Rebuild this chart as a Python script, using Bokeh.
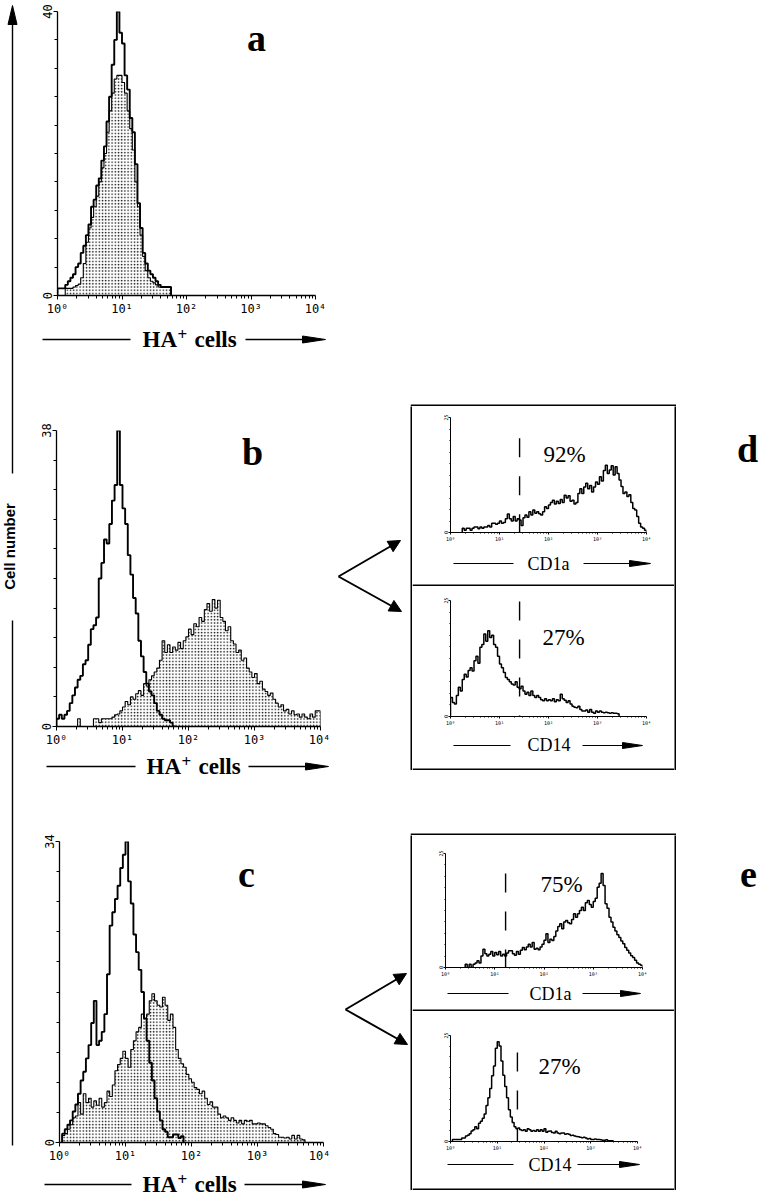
import numpy as np
from bokeh.plotting import figure
from bokeh.layouts import row, column
from bokeh.models import (Range1d, FixedTicker, Label, Arrow, NormalHead, Spacer)
from bokeh.embed import file_html
from bokeh.resources import INLINE

# ---------------- data (channel bins of 0.04 decade, log scale 10^0..10^4) ----
BIN_DEC = 0.04

A_OPEN_START = 0
A_OPEN = [1, 1, 1, 1.5, 2, 2.5, 3, 4, 4.5, 6, 7, 8.5, 10, 12.5, 13.5, 15.5, 16.5,
          19, 21, 24.5, 28, 32.5, 36, 40, 37, 35.5, 31, 29, 25, 23, 18.5, 13, 9.5,
          6, 4.5, 3.5, 3, 2.5, 2, 1.5, 1.2, 1.2, 1.2, 1.2]
A_FILL_START = 3
A_FILL = [1, 1, 1, 1.2, 1.4, 1.6, 2.5, 4.5, 7.5, 9.5, 11, 12.5, 14, 16, 18, 20, 23,
          26, 28.5, 30.5, 31, 31, 30, 28.5, 26, 23.5, 20.5, 16, 12.5, 8.5, 5.5, 3.5,
          2.5, 2, 1.8, 1.5, 1.2, 1.2, 1.2, 1.2, 1.2]

B_OPEN_START = 0
B_OPEN = [1, 1.5, 1, 1.5, 2, 3, 4, 5, 6, 6.5, 8, 8.5, 10.5, 12.5, 13, 14, 19, 21,
          24, 23.5, 26, 29, 31, 38, 31, 28, 26, 22, 19.5, 16.5, 14.5, 11, 9, 7,
          5.5, 4.5, 4, 3, 2, 1.5, 1, 0.8, 0.8, 0.5, 0]
B_FILL_START = 8
B_FILL = [1, 0, 0, 0, 0, 0, 1, 1, 0.5, 1, 1, 1, 1, 1.2, 1.5, 1.6, 2, 2.5, 3.2,
          2.8, 3.8, 3.5, 4.2, 4.6, 4, 5.5, 5.2, 6, 6.5, 7, 7.5, 8.5, 11, 9.5, 10.5,
          9.5, 10.2, 9.8, 10.8, 10, 11, 11.5, 12.5, 11.8, 13.2, 12.8, 14, 13.5, 15,
          15.8, 14.8, 16.3, 15.2, 16.2, 14, 13.5, 12.3, 12.8, 11, 10.6, 9.5, 9.8,
          8.5, 8.8, 7.5, 7, 6.3, 6.8, 5.5, 5.8, 4.8, 4.5, 4, 4.3, 3.5, 3, 2.5, 2.8,
          2, 2.2, 1.6, 2, 1.5, 1.6, 1.2, 1.6, 1.2, 1, 1.6, 1.2, 2, 2]

C_OPEN_START = 1
C_OPEN = [1, 1.5, 2, 2.5, 3.5, 4.3, 5.5, 7, 8, 9.5, 11, 13.5, 16, 11, 11.5, 12.5,
          14.5, 19, 24.5, 26, 27.5, 29, 31, 32.5, 34, 29.5, 27, 23.5, 21.5, 19.5,
          17, 14, 11.5, 9, 7, 5, 3.5, 2.5, 1.5, 1.2, 0.6, 0.6, 0.9, 0.9, 0.5, 0.7]
C_FILL_START = 1
C_FILL = [0.8, 1, 1.5, 2, 2.8, 3, 4.5, 3.2, 5.5, 4.5, 5, 4, 4.7, 4.2, 5, 4, 4.5,
          5.8, 5.2, 6.5, 8.1, 8.8, 9.5, 10.3, 9.5, 8.5, 10.5, 11.5, 12.5, 13, 14.5,
          14, 14.5, 16, 16.8, 16, 15.5, 15.3, 16.4, 15.5, 13.8, 14.5, 13, 10.5, 9.5,
          8.9, 8.5, 7.7, 7.2, 6.8, 6.2, 6, 5.5, 5.8, 5, 4.3, 4.6, 4, 4, 3.2, 2.8, 3,
          2.8, 2.5, 2.8, 2.5, 2.2, 2.5, 2.1, 2.5, 2.4, 2.5, 2.1, 2.1, 2.2, 2.1, 2.1,
          1.9, 1.7, 1.5, 1, 0.9, 0.6, 0.6, 0.5, 0.6, 0.4, 0.8, 0.4, 0.8, 0.4, 0.3]

D1_START = 6
D1 = [0.9, 0.5, 0.9, 0.9, 0.5, 0.9, 1.2, 1.2, 0.8, 1.2, 0.9, 1.2, 1.2, 1.5, 1.2,
      2, 2, 1.8, 2, 2.5, 2, 2.2, 3, 4, 3, 2.5, 3.5, 2.5, 3, 2.7, 1.5, 3.2, 3.8,
      3.3, 4.5, 3.8, 4.9, 4.2, 4.5, 4.1, 3.8, 4.5, 5.6, 5.2, 6, 6.5, 7, 6.2, 6.8,
      6.3, 7.2, 6.5, 8.1, 7.5, 8, 6.8, 7, 6.2, 6.5, 8.5, 9.5, 8.5, 9.9, 10.7, 9.5,
      10.2, 8.8, 9.9, 11, 10.5, 12.1, 11.2, 13.5, 14.6, 12.8, 13.6, 14.5, 12.5,
      14.3, 12.8, 11.4, 10, 8.5, 8.8, 7.8, 8.2, 6.5, 5.2, 4.9, 3.5, 2, 1.2, 0.9, 0.5]
D2_START = 0
D2 = [4.1, 3, 2.7, 4.5, 6.3, 5.5, 8, 9.1, 8.5, 9.9, 10.5, 9.8, 12, 13, 11.5, 14.9,
      15.5, 17.8, 16.2, 18.5, 17, 17.5, 15.5, 14.9, 13, 11.3, 10.5, 9.5, 8.4, 8,
      7.5, 7, 6.8, 7.5, 6.3, 6, 6.5, 5.5, 4.8, 5.2, 4.5, 5.5, 4.5, 4.1, 4.5, 4.1,
      3.6, 3.4, 3.8, 3.4, 3.6, 3.4, 3.8, 3.2, 3.6, 3.4, 4.8, 3.8, 3.5, 3, 3.4, 2.7,
      2.2, 2, 1.9, 2.2, 1.5, 1.2, 1.2, 1.4, 0.9, 1.5, 0.9, 0.7, 1.2, 0.9, 1.2, 0.9,
      0.8, 0.9, 0.8, 0.7, 0.8, 0.7, 0.7, 0.6]
E1_START = 10
E1 = [0.7, 0, 0.7, 0, 0.7, 1, 1.5, 1, 2.5, 4, 3, 2.5, 2.9, 3.5, 2.5, 3.3, 2.8, 3.5,
      2.5, 2.9, 2.5, 3.2, 3.7, 3.7, 3, 2.7, 3.5, 2.9, 3.8, 4.4, 3.9, 4.5, 5.1, 4.5,
      5.5, 4, 4.2, 3.9, 4.5, 5.1, 6, 7.4, 5.5, 6.2, 5.9, 6.8, 8, 9, 9.6, 8.5, 10,
      10.3, 9.8, 9.6, 10.5, 11.8, 11, 11.8, 12.5, 13.2, 12.5, 14.2, 14.7, 13.8,
      13.2, 14.5, 15.2, 17.6, 18.5, 20.6, 18, 14, 13, 11, 10, 8.8, 8, 7.2, 6.6, 5.8,
      5.2, 4.4, 3.8, 3.2, 2.6, 2.2, 1.6, 1, 0.7, 0.5]
E2_START = 1
E2 = [0.5, 0.5, 0.5, 0.5, 0.5, 0.8, 0.8, 1.3, 1.5, 1.8, 2.5, 2.8, 3.5, 3, 4.3, 4.8,
      5.5, 6.5, 8.5, 10.3, 12.5, 15.5, 17.8, 22, 23.5, 22.5, 19, 15.6, 13, 10.3,
      7.5, 5.8, 4.5, 3.5, 3, 3.2, 2.8, 2.6, 2.8, 2.4, 3, 2.8, 2.4, 2.6, 2.4, 2.8,
      2.4, 2.8, 2.4, 3, 2.2, 2.4, 2.5, 2.1, 2, 2.4, 2, 1.8, 2, 2, 1.7, 1.8, 1.7,
      1.4, 1.5, 1.3, 1.2, 1.1, 1, 0.9, 1, 0.8, 0.6, 0.7, 0.5, 0.5, 0.6, 0.5, 0.5,
      0.4, 0.3, 0.3, 0.4, 0.2, 0.2, 0.2]

Y_MAX_A, Y_MAX_B, Y_MAX_C, Y_MAX_SUB = 40, 38, 34, 25
GATE_D1, GATE_D2, GATE_E1, GATE_E2 = 25.7, 25.7, 16.6, 27.0
PCT_D1, PCT_D2, PCT_E1, PCT_E2 = "92%", "27%", "75%", "27%"

X_TICKS = [1, 10, 100, 1000, 10000]
X_TICK_LABELS = ["10⁰", "10¹", "10²", "10³", "10⁴"]
X_MINOR = [m * 10 ** d for d in range(4) for m in range(2, 10)]

SERIF, SANS, MONO = "Liberation Serif", "Liberation Sans", "DejaVu Sans Mono"
MID = 0.35  # offset from baseline to the vertical middle of a text line, in em


def outline(start, vals):
    v = np.asarray(vals, float)
    edges = 10 ** ((start + np.arange(len(v) + 1)) * BIN_DEC)
    xs = np.repeat(edges, 2)
    ys = np.concatenate([[0.0], np.repeat(v, 2), [0.0]])
    return xs, ys


def text_label(x, y, text, size, bold=False, align="left", font=SERIF):
    return Label(x=x, y=y, text=text, text_font=font, text_font_size=f"{size}px",
                 text_font_style="bold" if bold else "normal", text_align=align,
                 text_baseline="middle", text_color="black")


class Panel:
    """Histogram figure; ox/oy = position of the canvas in page pixels."""

    def __init__(self, ox, oy, w, h, ml, mr, mt, mb, ymax, small=False):
        self.ox, self.oy, self.w, self.h = ox, oy, w, h
        self.ml, self.mr, self.mt, self.mb, self.ymax = ml, mr, mt, mb, ymax
        p = figure(width=w, height=h, x_axis_type="log", x_range=Range1d(1, 1e4),
                   y_range=Range1d(0, ymax), output_backend="svg",
                   toolbar_location=None, min_border_left=ml, min_border_right=mr,
                   min_border_top=mt, min_border_bottom=mb, frame_align=False)
        p.outline_line_color = None
        p.grid.visible = False
        p.background_fill_color = "white"
        p.border_fill_color = "white"
        fs = "5px" if small else "12px"
        xa = p.xaxis[0]
        xa.ticker = FixedTicker(ticks=X_TICKS, minor_ticks=X_MINOR)
        xa.major_label_overrides = dict(zip(X_TICKS, X_TICK_LABELS))
        ya = p.yaxis[0]
        ya.ticker = FixedTicker(ticks=[0, ymax],
                                minor_ticks=[ymax * k / 10 for k in range(1, 10)])
        ya.major_label_orientation = "vertical"
        for ax in (xa, ya):
            ax.major_label_text_font = MONO
            ax.major_label_text_font_size = fs
            ax.major_label_text_color = "black"
            ax.axis_line_color = "black"
            ax.axis_line_width = 1.0 if small else 1.3
            ax.major_tick_line_color = "black"
            ax.minor_tick_line_color = "black"
            ax.major_tick_in = 0
            ax.minor_tick_in = 0
            ax.major_tick_out = 2 if small else 4
            ax.minor_tick_out = 1 if small else 3
            ax.major_label_standoff = 1 if small else 2
        self.p = p

    def x(self, rx):
        fx = (rx - self.ox - self.ml) / (self.w - self.ml - self.mr)
        return 10 ** (4 * fx)

    def y(self, ry):
        fy = (self.oy + self.h - self.mb - ry) / (self.h - self.mt - self.mb)
        return self.ymax * fy

    def label(self, text, rx, rbase, size, bold=False, align="left"):
        self.p.add_layout(text_label(self.x(rx), self.y(rbase - MID * size), text,
                                     size, bold, align))

    def filled(self, start, vals, lw=1.1):
        xs, ys = outline(start, vals)
        self.p.patch(xs, ys, fill_color="white", hatch_pattern="dot", hatch_scale=3.2,
                     hatch_weight=1.3, hatch_color="#111111", line_color="black",
                     line_width=lw)

    def open(self, start, vals, lw=1.9):
        xs, ys = outline(start, vals)
        self.p.line(xs, ys, line_color="black", line_width=lw)

    def gate(self, gx, top):
        self.p.segment(x0=[gx], y0=[top], x1=[gx], y1=[0], line_color="black",
                       line_width=1.4, line_dash="19 19")


def deco(x0, x1, y0, y1, bg="white"):
    p = figure(width=x1 - x0, height=y1 - y0, x_range=Range1d(x0, x1),
               y_range=Range1d(y1, y0), min_border=0, x_axis_location=None,
               y_axis_location=None, output_backend="svg", toolbar_location=None,
               frame_align=False)
    p.outline_line_color = None
    p.grid.visible = False
    p.background_fill_color = bg
    p.border_fill_color = bg
    return p


def axis_caption(p, xl0, xl1, parts, xa0, xa1, yline, ybase, headlen, headhalf,
                 bold, lw):
    p.line([xl0, xl1], [yline, yline], line_color="black", line_width=lw)
    p.line([xa0, xa1 - headlen + 2], [yline, yline], line_color="black", line_width=lw)
    p.patch([xa1 - headlen, xa1, xa1 - headlen],
            [yline - headhalf, yline, yline + headhalf],
            fill_color="black", line_color="black", line_width=1)
    for s, tx, dy, fsz in parts:
        p.add_layout(text_label(tx, ybase - dy - MID * fsz, s, fsz, bold))


def hline(p, x0, x1, y, w=2):
    p.line([x0, x1], [y, y], line_color="black", line_width=w)


def ha_parts(x0):
    return [("HA", x0, 0, 23), ("+", x0 + 35, 7, 17), ("cells", x0 + 52, 0, 23)]


# ---------------- panel a ----------------
A = Panel(30, 0, 732, 322, 27, 447, 11, 27, Y_MAX_A)
A.filled(A_FILL_START, A_FILL)
A.open(A_OPEN_START, A_OPEN)
A.label("a", 256, 51, 38, bold=True, align="center")
capA = deco(30, 762, 322, 352)
axis_caption(capA, 42, 130, ha_parts(142), 245, 325, 339, 347, 23, 3.5, True, 1.3)

# ---------------- panel b ----------------
B = Panel(30, 352, 300, 400, 26, 10, 78, 26, Y_MAX_B)
B.filled(B_FILL_START, B_FILL)
B.open(B_OPEN_START, B_OPEN)
B.label("b", 252, 465, 38, bold=True, align="center")
capB = deco(30, 330, 752, 780)
axis_caption(capB, 46, 135, ha_parts(146), 248, 328, 766, 774, 23, 3.5, True, 1.3)

# ---------------- panel c ----------------
C = Panel(30, 780, 300, 390, 29, 7, 61, 28, Y_MAX_C)
C.filled(C_FILL_START, C_FILL)
C.open(C_OPEN_START, C_OPEN)
C.label("c", 246, 887, 38, bold=True, align="center")
capC = deco(30, 330, 1170, 1196)
axis_caption(capC, 44, 131, ha_parts(142), 244, 325, 1184, 1192, 23, 3.5, True, 1.3)

# ---------------- sub panels d ----------------
D1P = Panel(412, 406, 262, 144, 38, 28, 11, 18, Y_MAX_SUB, small=True)
D1P.open(D1_START, D1, 1.5)
D1P.gate(GATE_D1, 20.5)
D1P.label(PCT_D1, 543, 462, 23)
capD1 = deco(412, 674, 550, 586)
axis_caption(capD1, 453, 513, [("CD1a", 527, 0, 18)], 583, 650, 563, 570, 21, 3,
             False, 1.2)
hline(capD1, 412, 674, 585)

D2P = Panel(412, 586, 262, 147, 38, 28, 14, 17, Y_MAX_SUB, small=True)
D2P.open(D2_START, D2, 1.5)
D2P.gate(GATE_D2, 24.8)
D2P.label(PCT_D2, 542, 645, 23)
capD2 = deco(412, 674, 733, 770)
axis_caption(capD2, 453, 510, [("CD14", 527, 0, 18)], 582, 642, 745, 751, 20, 3,
             False, 1.2)
hline(capD2, 412, 674, 769)

# ---------------- sub panels e ----------------
E1P = Panel(412, 835, 262, 147, 33, 32, 18, 15, Y_MAX_SUB, small=True)
E1P.open(E1_START, E1, 1.5)
E1P.gate(GATE_E1, 20.6)
E1P.label(PCT_E1, 540, 892, 23)
capE1 = deco(412, 674, 982, 1011)
axis_caption(capE1, 447, 508, [("CD1a", 529, 0, 18)], 582, 640, 993, 1000, 20, 3,
             False, 1.2)
hline(capE1, 412, 674, 1010)

E2P = Panel(412, 1011, 262, 142, 38, 37, 24, 9, Y_MAX_SUB, small=True)
E2P.open(E2_START, E2, 1.5)
E2P.gate(GATE_E2, 21)
E2P.label(PCT_E2, 538, 1075, 23)
capE2 = deco(412, 674, 1153, 1190)
axis_caption(capE2, 447, 513, [("CD14", 528, 0, 18)], 577, 639, 1164, 1171, 20, 3,
             False, 1.2)
hline(capE2, 412, 674, 1189)


def vbar(h):
    return deco(0, 2, 0, h, bg="black")


top_d = deco(410, 676, 352, 406)
hline(top_d, 410, 676, 405)
top_e = deco(410, 676, 780, 835)
hline(top_e, 410, 676, 834)

box_d = row(vbar(364), column(D1P.p, capD1, D2P.p, capD2), vbar(364))
box_e = row(vbar(355), column(E1P.p, capE1, E2P.p, capE2), vbar(355))

# ---------------- decorations ----------------
strip = deco(0, 30, 0, 1196)
strip.line([12, 12], [22, 473], line_color="black", line_width=1.4)
strip.line([12, 12], [620, 1145], line_color="black", line_width=1.4)
strip.patch([7.5, 12, 16.5], [24, 5, 24], fill_color="black", line_color="black")
strip.add_layout(Label(x=9, y=546, text="Cell number", angle=np.pi / 2,
                       text_font=SANS, text_font_size="15px", text_font_style="bold",
                       text_align="center", text_baseline="middle",
                       text_color="black"))

arr_d = deco(330, 410, 352, 780)
for ex, ey in [(400, 540), (401, 611)]:
    arr_d.add_layout(Arrow(x_start=338, y_start=576, x_end=ex, y_end=ey,
                           line_width=2, line_color="black",
                           end=NormalHead(size=12, fill_color="black",
                                          line_color="black")))
arr_e = deco(330, 410, 780, 1196)
for ex, ey in [(406, 973), (407, 1044)]:
    arr_e.add_layout(Arrow(x_start=345, y_start=1009, x_end=ex, y_end=ey,
                           line_width=2, line_color="black",
                           end=NormalHead(size=12, fill_color="black",
                                          line_color="black")))

let_d = deco(676, 762, 352, 780)
let_d.add_layout(text_label(747, 462 - MID * 38, "d", 38, bold=True, align="center"))
let_e = deco(676, 762, 780, 1196)
let_e.add_layout(text_label(748, 887 - MID * 38, "e", 38, bold=True, align="center"))

col_d = column(top_d, box_d, Spacer(width=266, height=10))
col_e = column(top_e, box_e, Spacer(width=266, height=6))
row_b = row(column(B.p, capB), arr_d, col_d, let_d)
row_c = row(column(C.p, capC), arr_e, col_e, let_e)
main = column(A.p, capA, row_b, row_c)
layout = row(strip, main)

open("out.html", "w").write(file_html(layout, INLINE, "HA+ cells"))
